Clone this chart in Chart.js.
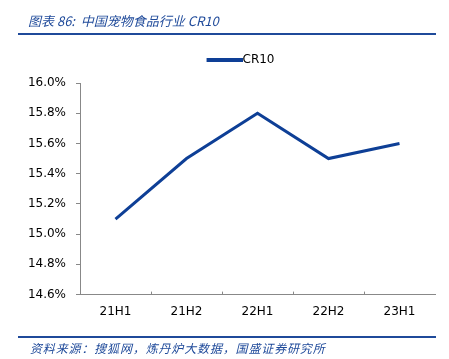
<!DOCTYPE html>
<html><head><meta charset="utf-8">
<script src="https://cdn.jsdelivr.net/npm/chart.js@4/dist/chart.umd.min.js"></script>
<style>html,body{margin:0;padding:0;background:#fff;}canvas{display:block;}</style>
</head><body>
<canvas id="c" width="449" height="359"></canvas>
<script>
const categories = ['21H1','21H2','22H1','22H2','23H1'];
const cr10 = [15.1, 15.5, 15.8, 15.5, 15.6];
const yTicks = [14.6, 14.8, 15.0, 15.2, 15.4, 15.6, 15.8, 16.0];
const titleText = '图表 86:  中国宠物食品行业 CR10';
const sourceText = '资料来源：搜狐网，炼丹炉大数据，国盛证券研究所';

const blue = '#1F4A9A';
const lineColor = '#0E3F96';

// legend marker: a thick line touching the label
const marker = document.createElement('canvas');
marker.width = 48; marker.height = 4;
(function () {
  const m = marker.getContext('2d');
  m.fillStyle = lineColor;
  m.fillRect(12, 0, 36, 4);
})();

const frame = {
  id: 'frame',
  beforeInit(chart) {
    const lg = chart.legend;
    if (lg) {
      const fit = lg.fit;
      lg.fit = function () { fit.call(this); this.height += 7; };
    }
  },
  afterLayout(chart) {
    const lg = chart.legend;
    if (lg) { lg.left += 20; lg.right += 20; }
  },
  afterDraw(chart) {
    const ctx = chart.ctx;
    ctx.save();
    ctx.fillStyle = blue;
    ctx.font = 'italic 13px "Noto Sans CJK SC", sans-serif';
    ctx.textBaseline = 'middle';
    ctx.fillText(titleText, 28, 21);
    ctx.fillRect(18, 33, 418, 2);
    ctx.fillRect(18, 336, 418, 2);
    ctx.font = 'italic 12px "Noto Sans CJK SC", sans-serif';
    ctx.letterSpacing = '0.85px';
    ctx.fillText(sourceText, 30, 348);
    ctx.letterSpacing = '0px';
    // inward x ticks between categories
    const xs = chart.scales.x;
    const bottom = chart.chartArea.bottom;
    ctx.strokeStyle = '#888';
    ctx.lineWidth = 1;
    for (let i = 1; i < categories.length; i++) {
      const px = Math.round((xs.getPixelForValue(i - 1) + xs.getPixelForValue(i)) / 2) + 0.5;
      ctx.beginPath(); ctx.moveTo(px, bottom); ctx.lineTo(px, bottom - 3); ctx.stroke();
    }
    ctx.restore();
  }
};

new Chart(document.getElementById('c'), {
  type: 'line',
  data: {
    labels: categories,
    datasets: [{
      label: 'CR10',
      data: cr10,
      borderColor: lineColor,
      backgroundColor: lineColor,
      borderWidth: 3,
      pointRadius: 0,
      pointStyle: marker,
      tension: 0,
      fill: false
    }]
  },
  options: {
    responsive: false,
    animation: false,
    layout: { padding: { left: 0, right: 14, top: 46, bottom: 30 } },
    plugins: {
      legend: {
        display: true,
        position: 'top',
        labels: {
          usePointStyle: true,
          pointStyleWidth: 36,
          boxHeight: 4,
          color: '#000',
          font: { family: 'DejaVu Sans', size: 12 },
          padding: 8,
          generateLabels(chart) {
            const l = Chart.defaults.plugins.legend.labels.generateLabels(chart);
            l.forEach(i => { i.pointStyle = marker; });
            return l;
          }
        }
      },
      tooltip: { enabled: false }
    },
    scales: {
      x: {
        offset: true,
        grid: { display: true, drawOnChartArea: false, drawTicks: false, color: '#888' },
        border: { display: true, color: '#888', width: 1 },
        ticks: { color: '#000', font: { family: 'DejaVu Sans', size: 12 }, padding: 10 }
      },
      y: {
        min: 14.6, max: 16.0,
        afterBuildTicks(scale) { scale.ticks = yTicks.map(v => ({ value: v })); },
        afterFit(scale) { scale.width = 80; },
        grid: { display: true, drawOnChartArea: false, drawTicks: true, tickLength: 4, color: '#888' },
        border: { display: true, color: '#888', width: 1 },
        ticks: {
          color: '#000', font: { family: 'DejaVu Sans', size: 12 }, padding: 10,
          callback: v => Number(v).toFixed(1) + '%'
        }
      }
    }
  },
  plugins: [frame]
});
</script>
</body></html>
